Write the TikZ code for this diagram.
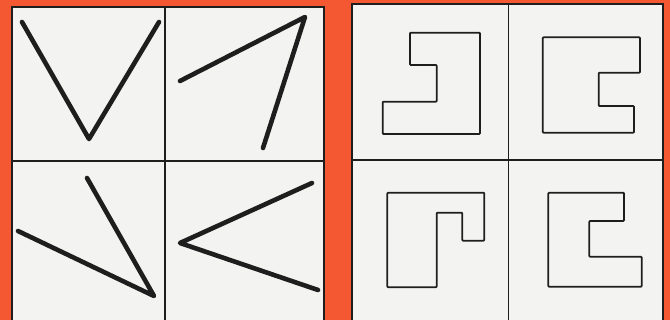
\documentclass[tikz,border=0pt]{standalone}
\usetikzlibrary{calc}
\definecolor{bgred}{RGB}{244,88,50}
\definecolor{cellgray}{RGB}{243,243,241}
\definecolor{ink}{RGB}{30,30,30}
\tikzset{
  gridline/.style={draw=ink,line width=1.5pt},
  vstroke/.style={draw=ink,line width=4.6pt,line cap=round,line join=round},
  outline/.style={draw=ink,line width=1.8pt,line join=round,rounded corners=0.8pt},
}
\begin{document}
\begin{tikzpicture}[x=1pt,y=-1pt]
\useasboundingbox (0,0) rectangle (670,320);
\fill[bgred] (0,0) rectangle (670,320);
% left panel
\filldraw[fill=cellgray,gridline] (12,7) rectangle (324,321);
\draw[gridline] (165,7) -- (165,321);
\draw[gridline] (12,161) -- (324,161);
% right panel
\filldraw[fill=cellgray,gridline] (352,4) rectangle (663,321);
\draw[gridline] (508.3,4) -- (508.3,321);
\draw[gridline] (352,160) -- (663,160);
% left strokes
\draw[vstroke] (22,22) -- (89,139) -- (159,22);
\draw[vstroke] (180,81) -- (305,17) -- (263,148);
\draw[vstroke] (18,231) -- (154,296) -- (87,178);
\draw[vstroke] (312,183) -- (180,243) -- (318,290);
% right outlines
\draw[outline] (410,32.7) -- (480,32.7) -- (480,134) -- (382.7,134) -- (382.7,101.7) -- (436.7,101.7) -- (436.7,65) -- (410,65) -- cycle;
\draw[outline] (542.7,37.3) -- (640,37.3) -- (640,72.7) -- (598.7,72.7) -- (598.7,106) -- (634,106) -- (634,132.7) -- (542.7,132.7) -- cycle;
\draw[outline] (387.3,192.7) -- (484.3,192.7) -- (484.3,240.7) -- (462.3,240.7) -- (462.3,212.7) -- (436.7,212.7) -- (436.7,287.3) -- (387.3,287.3) -- cycle;
\draw[outline] (548.3,192.7) -- (624,192.7) -- (624,221) -- (589.3,221) -- (589.3,256.7) -- (641.7,256.7) -- (641.7,286.7) -- (548.3,286.7) -- cycle;
\end{tikzpicture}
\end{document}
